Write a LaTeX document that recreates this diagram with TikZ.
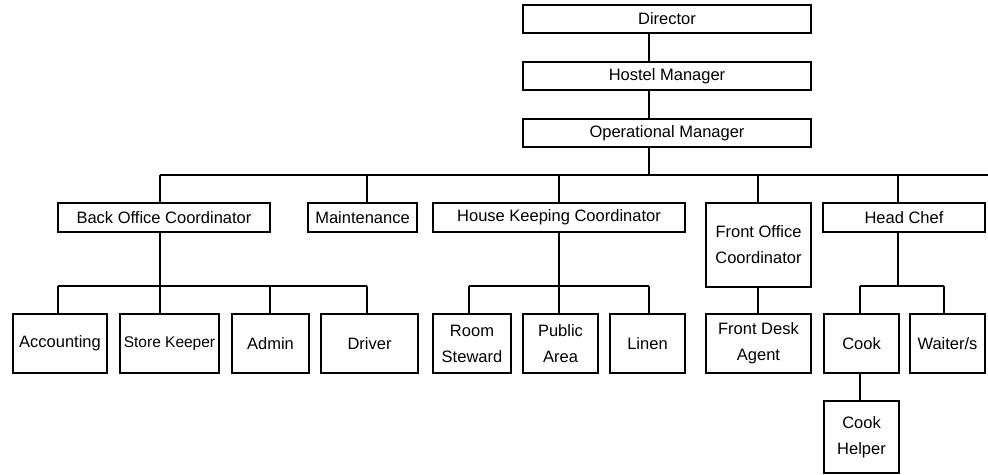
\documentclass[tikz,border=0pt]{standalone}
\usepackage{fontspec}
\setmainfont{Liberation Sans}
\begin{document}
\begin{tikzpicture}[x=1pt,y=-1pt,
  box/.style={draw, line width=1.4pt, rectangle, inner sep=0pt, align=center,
    font=\fontsize{16.5}{26}\selectfont},
  wire/.style={line width=1.4pt}]
\useasboundingbox (0,0) rectangle (988,474);
% top chain
\node[box, minimum width=288, minimum height=28] (dir) at (667,19) {Director};
\node[box, minimum width=288, minimum height=28] (hm) at (667,76) {Hostel Manager};
\node[box, minimum width=288, minimum height=28] (om) at (667,133) {Operational Manager};
% level 2
\node[box, minimum width=212, minimum height=29] (boc) at (164,217.5) {Back Office Coordinator};
\node[box, minimum width=109, minimum height=29] (mnt) at (362.5,217.5) {Maintenance};
\node[box, minimum width=252, minimum height=29] (hkc) at (559,217.5) {House Keeping Coordinator};
\node[box, minimum width=105, minimum height=84] (foc) at (758.5,245) {Front Office\\Coordinator};
\node[box, minimum width=162, minimum height=29] (hc) at (904,217.5) {Head Chef};
% level 3
\node[box, minimum width=94, minimum height=59] (acc) at (60,343.5) {Accounting};
\node[box, minimum width=99, minimum height=59, font=\fontsize{15.5}{26}\selectfont] (sk) at (169.5,343.5) {Store Keeper};
\node[box, minimum width=77, minimum height=59] (adm) at (270.5,343.5) {Admin};
\node[box, minimum width=97, minimum height=59] (drv) at (369.5,343.5) {Driver};
\node[box, minimum width=78, minimum height=59] (rs) at (472,343.5) {Room\\Steward};
\node[box, minimum width=75, minimum height=59] (pa) at (560.5,343.5) {Public\\Area};
\node[box, minimum width=75, minimum height=59] (lin) at (647.5,343.5) {Linen};
\node[box, minimum width=105, minimum height=59] (fda) at (758.5,343.5) {Front Desk\\Agent};
\node[box, minimum width=75, minimum height=59] (cook) at (861.5,343.5) {Cook};
\node[box, minimum width=75, minimum height=59] (wai) at (947.5,343.5) {Waiter/s};
\node[box, minimum width=75, minimum height=72] (ch) at (861.5,437) {Cook\\Helper};
% x positions
\coordinate (spine) at (649,175);
\coordinate (busL) at (160,175);
\coordinate (busR) at (988,175);
\coordinate (xm) at (367,175);
\coordinate (xh) at (559,175);
\coordinate (xf) at (758,175);
\coordinate (xc) at (898,175);
% top connectors
\draw[wire] (dir.south -| spine) -- (hm.north -| spine);
\draw[wire] (hm.south -| spine) -- (om.north -| spine);
\draw[wire] (om.south -| spine) -- (spine);
\draw[wire] (busL) -- (busR);
\draw[wire] (busL) -- (busL |- boc.north);
\draw[wire] (xm) -- (xm |- mnt.north);
\draw[wire] (xh) -- (xh |- hkc.north);
\draw[wire] (xf) -- (xf |- foc.north);
\draw[wire] (xc) -- (xc |- hc.north);
% back office
\coordinate (b1L) at (58,286);
\coordinate (b1R) at (367,286);
\coordinate (b1a) at (160,286);
\coordinate (b1b) at (270,286);
\draw[wire] (boc.south -| b1a) -- (b1a);
\draw[wire] (b1L) -- (b1R);
\draw[wire] (b1L) -- (b1L |- acc.north);
\draw[wire] (b1a) -- (b1a |- sk.north);
\draw[wire] (b1b) -- (b1b |- adm.north);
\draw[wire] (b1R) -- (b1R |- drv.north);
% house keeping
\coordinate (b2L) at (469,286);
\coordinate (b2R) at (649,286);
\coordinate (b2a) at (559,286);
\draw[wire] (hkc.south -| b2a) -- (b2a);
\draw[wire] (b2L) -- (b2R);
\draw[wire] (b2L) -- (b2L |- rs.north);
\draw[wire] (b2a) -- (b2a |- pa.north);
\draw[wire] (b2R) -- (b2R |- lin.north);
% front office
\draw[wire] (foc.south -| xf) -- (fda.north -| xf);
% head chef
\coordinate (b3L) at (860,286);
\coordinate (b3R) at (944,286);
\coordinate (b3a) at (898,286);
\draw[wire] (hc.south -| b3a) -- (b3a);
\draw[wire] (b3L) -- (b3R);
\draw[wire] (b3L) -- (b3L |- cook.north);
\draw[wire] (b3R) -- (b3R |- wai.north);
\draw[wire] (cook.south -| b3L) -- (ch.north -| b3L);
\end{tikzpicture}
\end{document}
